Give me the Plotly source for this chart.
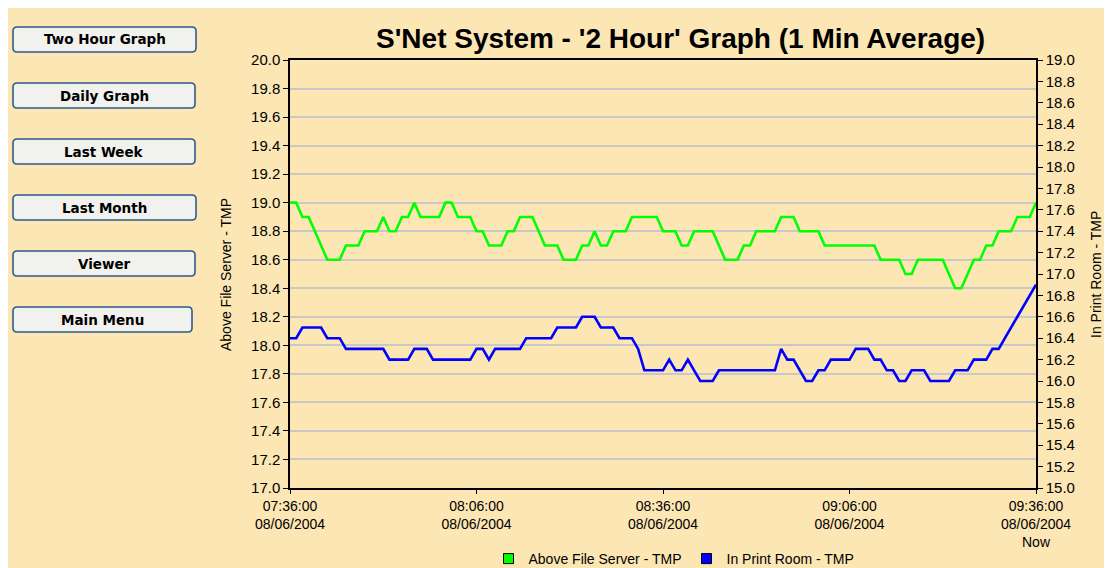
import pandas as pd
import plotly.graph_objects as go

# ---------------- data ----------------
times = pd.date_range("2004-06-08 07:36:00", periods=121, freq="min")

above_file_server = [
    19.0, 19.0, 18.9, 18.9, 18.8, 18.7, 18.6, 18.6, 18.6, 18.7,
    18.7, 18.7, 18.8, 18.8, 18.8, 18.9, 18.8, 18.8, 18.9, 18.9,
    19.0, 18.9, 18.9, 18.9, 18.9, 19.0, 19.0, 18.9, 18.9, 18.9,
    18.8, 18.8, 18.7, 18.7, 18.7, 18.8, 18.8, 18.9, 18.9, 18.9,
    18.8, 18.7, 18.7, 18.7, 18.6, 18.6, 18.6, 18.7, 18.7, 18.8,
    18.7, 18.7, 18.8, 18.8, 18.8, 18.9, 18.9, 18.9, 18.9, 18.9,
    18.8, 18.8, 18.8, 18.7, 18.7, 18.8, 18.8, 18.8, 18.8, 18.7,
    18.6, 18.6, 18.6, 18.7, 18.7, 18.8, 18.8, 18.8, 18.8, 18.9,
    18.9, 18.9, 18.8, 18.8, 18.8, 18.8, 18.7, 18.7, 18.7, 18.7,
    18.7, 18.7, 18.7, 18.7, 18.7, 18.6, 18.6, 18.6, 18.6, 18.5,
    18.5, 18.6, 18.6, 18.6, 18.6, 18.6, 18.5, 18.4, 18.4, 18.5,
    18.6, 18.6, 18.7, 18.7, 18.8, 18.8, 18.8, 18.9, 18.9, 18.9,
    19.0,
]

in_print_room = [
    16.4, 16.4, 16.5, 16.5, 16.5, 16.5, 16.4, 16.4, 16.4, 16.3,
    16.3, 16.3, 16.3, 16.3, 16.3, 16.3, 16.2, 16.2, 16.2, 16.2,
    16.3, 16.3, 16.3, 16.2, 16.2, 16.2, 16.2, 16.2, 16.2, 16.2,
    16.3, 16.3, 16.2, 16.3, 16.3, 16.3, 16.3, 16.3, 16.4, 16.4,
    16.4, 16.4, 16.4, 16.5, 16.5, 16.5, 16.5, 16.6, 16.6, 16.6,
    16.5, 16.5, 16.5, 16.4, 16.4, 16.4, 16.3, 16.1, 16.1, 16.1,
    16.1, 16.2, 16.1, 16.1, 16.2, 16.1, 16.0, 16.0, 16.0, 16.1,
    16.1, 16.1, 16.1, 16.1, 16.1, 16.1, 16.1, 16.1, 16.1, 16.3,
    16.2, 16.2, 16.1, 16.0, 16.0, 16.1, 16.1, 16.2, 16.2, 16.2,
    16.2, 16.3, 16.3, 16.3, 16.2, 16.2, 16.1, 16.1, 16.0, 16.0,
    16.1, 16.1, 16.1, 16.0, 16.0, 16.0, 16.0, 16.1, 16.1, 16.1,
    16.2, 16.2, 16.2, 16.3, 16.3, 16.4, 16.5, 16.6, 16.7, 16.8,
    16.9,
]

series_names = ["Above File Server - TMP", "In Print Room - TMP"]
series_colors = ["#00FF00", "#0000FF"]

x_tick_times = ["2004-06-08 07:36:00", "2004-06-08 08:06:00", "2004-06-08 08:36:00",
                "2004-06-08 09:06:00", "2004-06-08 09:36:00"]
x_tick_text = ["07:36:00<br>08/06/2004", "08:06:00<br>08/06/2004", "08:36:00<br>08/06/2004",
               "09:06:00<br>08/06/2004", "09:36:00<br>08/06/2004<br>Now"]

buttons = ["Two Hour Graph", "Daily Graph", "Last Week", "Last Month", "Viewer", "Main Menu"]

title_text = "S'Net System - '2 Hour' Graph (1 Min Average)"

# ---------------- layout geometry ----------------
OFF = 8  # page body margin: screen px = figure px + 8
W, H = 1112 - OFF, 568 - OFF
L, R, T, B = 282, 1028, 52, 480  # plot area in figure pixels
BG = "#FCE6B4"
FONT = "Liberation Sans, Arial, sans-serif"


def px_x(p):
    """screen x pixel -> paper x"""
    return (p - OFF - L) / (R - L)


def px_y(p):
    """screen y pixel -> paper y"""
    return (B - (p - OFF)) / (B - T)


fig = go.Figure()

fig.add_trace(go.Scatter(x=times, y=above_file_server, mode="lines", name=series_names[0],
                         line=dict(color=series_colors[0], width=2.6), showlegend=False,
                         yaxis="y"))
fig.add_trace(go.Scatter(x=times, y=in_print_room, mode="lines", name=series_names[1],
                         line=dict(color=series_colors[1], width=2.6), showlegend=False,
                         yaxis="y2"))
# legend entries with square swatches
for name, col in zip(series_names, series_colors):
    fig.add_trace(go.Scatter(x=[None], y=[None], mode="markers", name=name,
                             marker=dict(symbol="square", size=10, color=col,
                                         line=dict(color="black", width=1)),
                             showlegend=True))

shapes = []
annotations = []

# buttons
btn_top = [27, 83, 139, 195, 251, 307]
btn_right = [196, 195, 195, 196, 195, 192]
for label, top, right in zip(buttons, btn_top, btn_right):
    x0, x1, y0, y1 = 13, right, top, top + 25
    r = 4
    path = (f"M {px_x(x0 + r)},{px_y(y0)} L {px_x(x1 - r)},{px_y(y0)} "
            f"Q {px_x(x1)},{px_y(y0)} {px_x(x1)},{px_y(y0 + r)} "
            f"L {px_x(x1)},{px_y(y1 - r)} Q {px_x(x1)},{px_y(y1)} {px_x(x1 - r)},{px_y(y1)} "
            f"L {px_x(x0 + r)},{px_y(y1)} Q {px_x(x0)},{px_y(y1)} {px_x(x0)},{px_y(y1 - r)} "
            f"L {px_x(x0)},{px_y(y0 + r)} Q {px_x(x0)},{px_y(y0)} {px_x(x0 + r)},{px_y(y0)} Z")
    shapes.append(dict(type="path", xref="paper", yref="paper", path=path,
                       fillcolor="#F1F1EE", line=dict(color="#2E5A8A", width=1.6), layer="above"))
    annotations.append(dict(xref="paper", yref="paper", x=px_x((x0 + x1) / 2), y=px_y((y0 + y1) / 2),
                            text=f"<b>{label}</b>", showarrow=False, xanchor="center", yanchor="middle",
                            font=dict(family="DejaVu Sans, Verdana, sans-serif", size=13.5, color="black")))

# title
annotations.append(dict(xref="paper", yref="paper", x=px_x(680), y=px_y(38), text=f"<b>{title_text}</b>",
                        showarrow=False, xanchor="center", yanchor="middle",
                        font=dict(family=FONT, size=28, color="black")))

# axis titles
annotations.append(dict(xref="paper", yref="paper", x=px_x(226), y=px_y(275), text=series_names[0],
                        showarrow=False, textangle=-90, xanchor="center", yanchor="middle",
                        font=dict(family=FONT, size=14, color="black")))
annotations.append(dict(xref="paper", yref="paper", x=px_x(1096), y=px_y(275), text=series_names[1],
                        showarrow=False, textangle=-90, xanchor="center", yanchor="middle",
                        font=dict(family=FONT, size=14, color="black")))

fig.update_layout(
    width=W, height=H,
    margin=dict(l=L, r=W - R, t=T, b=H - B, autoexpand=False),
    paper_bgcolor=BG, plot_bgcolor=BG,
    font=dict(family=FONT, color="black"),
    shapes=shapes, annotations=annotations,
    showlegend=True,
    legend=dict(orientation="h", x=px_x(674), xanchor="center", y=px_y(559), yanchor="middle",
                bgcolor="rgba(0,0,0,0)", font=dict(family=FONT, size=14, color="black"),
                itemwidth=30, traceorder="normal"),
    xaxis=dict(type="date", range=[times[0], times[-1]], tickvals=x_tick_times, ticktext=x_tick_text,
               showgrid=False, zeroline=False, showline=True, linecolor="black", linewidth=1.5,
               mirror=True, ticks="outside", ticklen=4, tickcolor="black",
               tickfont=dict(family=FONT, size=14, color="black"), automargin=False),
    yaxis=dict(range=[17, 20], dtick=0.2, tick0=17, tickformat=".1f", showgrid=True,
               gridcolor="#C8C8C8", gridwidth=1.5, zeroline=False, showline=True, linecolor="black",
               linewidth=1.5, ticks="outside", ticklen=5, tickcolor="black",
               tickfont=dict(family=FONT, size=15, color="black"), automargin=False),
    yaxis2=dict(range=[15, 19], dtick=0.2, tick0=15, tickformat=".1f", overlaying="y", side="right",
                showgrid=False, zeroline=False, showline=True, linecolor="black", linewidth=1.5,
                ticks="outside", ticklen=5, tickcolor="black",
                tickfont=dict(family=FONT, size=15, color="black"), automargin=False),
)

fig.write_html("out.html",
               post_script="document.documentElement.style.overflow='hidden';"
                           "document.body.style.overflow='hidden';")
